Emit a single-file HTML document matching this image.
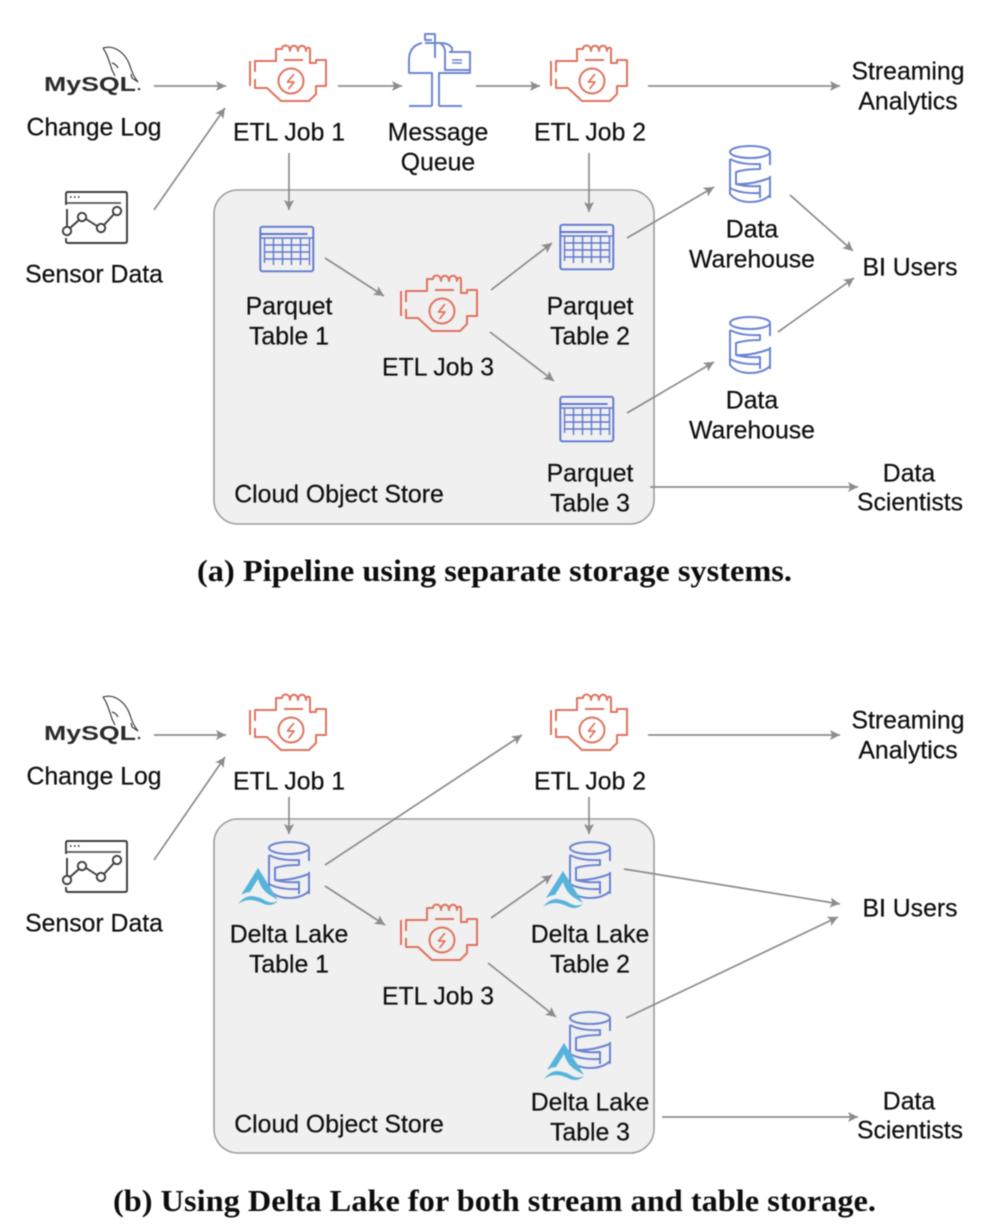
<!DOCTYPE html>
<html>
<head>
<meta charset="utf-8">
<style>
html,body{margin:0;padding:0;background:#fff}
svg{display:block}
text{font-family:"Liberation Sans",sans-serif;font-size:24.8px;fill:#0c0c0c;stroke:#0c0c0c;stroke-width:0.2;text-anchor:middle;transform:translateY(-0.7px)}
text.cap{font-family:"Liberation Serif",serif;font-weight:bold;font-size:31px;fill:#111;stroke:none;text-anchor:start;transform:none}
text.my{font-weight:bold;font-size:20px;text-anchor:start;fill:#2c2c2c;stroke:none;transform:none}
.a{stroke:#8c8c8c;stroke-width:1.7;fill:none;marker-end:url(#ah)}
.box{fill:#f0f0f0;stroke:#9a9a9a;stroke-width:1.6}
</style>
</head>
<body>
<svg width="982" height="1230" viewBox="0 0 982 1230" xmlns="http://www.w3.org/2000/svg">
<defs>
<filter id="b" x="-2%" y="-2%" width="104%" height="104%"><feGaussianBlur stdDeviation="0.45"/></filter>
<marker id="ah" markerUnits="userSpaceOnUse" markerWidth="12" markerHeight="12" refX="10" refY="5" orient="auto"><path d="M0,0 L10,5 L0,10 L2.2,5 Z" fill="#8c8c8c"/></marker>

<g id="engine" fill="none" stroke="#e0735f" stroke-width="2" stroke-linejoin="round">
<path d="M1,15 V40"/>
<path d="M6,26 V15 H27 V3 H33 C33,-2 41,-2 41,5 C41,-2 49,-2 49,5 C49,-2 57,-2 57,5 C57,1 61,1 61,3 V17 H67 V14 H77 V40 H67 V48 L60,55 H32 L18,42 H6 V33"/>
<path d="M35,14 H54"/>
<circle cx="42" cy="35" r="12.5"/>
<path d="M45,28 L38.5,36 H45 L39.5,43" stroke-width="1.7"/>
</g>

<g id="table" fill="none" stroke="#5f78cf" stroke-width="1.9" stroke-linejoin="round">
<rect x="0.8" y="0.8" width="53" height="44.5" rx="2"/>
<path d="M1,8 H48"/>
<path d="M1,12 H54" stroke-width="1.6"/>
<path d="M5,12 V37 M5,19 H50 M5,26 H50 M5,33 H50 M14,12 V39 M23,12 V39 M32,12 V39 M41,12 V39 M50,12 V39" stroke-width="1.4"/>
</g>

<g id="db" fill="none" stroke="#6c84d2" stroke-width="2" stroke-linejoin="round">
<ellipse cx="21" cy="7" rx="20" ry="6"/>
<path d="M1,14 V49 Q8,57 21,57 Q34,57 41,50 M41,7 V20 M41,31 V53"/>
<path d="M1,14 Q12,20 31,19 V24 Q16,24 7,27 V39 Q22,40 41,33"/>
<path d="M7,39 Q18,42 31,41 V53"/>
<path d="M1,43 Q12,49 31,48"/>
</g>

<g id="delta">
<path d="M20,0 L3,27 Q8,24 12,24 L20,11 Q23,21 30,26 L40,32 Z" fill="#56b4dc"/>
<path d="M0,36 Q6,28 14,28 Q22,29 28,33 Q34,36 40,33 Q34,39 26,36 Q18,32 12,32 Q6,32 0,36 Z" fill="#56b4dc"/>
</g>

<g id="mysql">
<text class="my" x="44" y="91" textLength="92" lengthAdjust="spacingAndGlyphs">MySQL</text>
<circle cx="139" cy="89" r="1.3" fill="#444"/>
<path d="M103,48 Q110,46 116,49 Q126,54 130,66 Q133,76 138,82 L132,78 L131,74 M103,48 L106,53 Q109,60 112,70 L115,76 M112,63 Q116,64 118,68" fill="none" stroke="#3c3c3c" stroke-width="1.2"/>
</g>

<g id="sensor" fill="none" stroke="#3c3c3c" stroke-width="1.9">
<path d="M67,192 H125 Q127,192 127,194 V241 Q127,243 125,243 H68 Q66,243 66,241 V238"/>
<path d="M66,205 V194 Q66,192 68,192"/>
<path d="M67,203 H121" stroke-width="1.4"/>
<path d="M70,197 h1.500 M74,197 h1.500 M78,197 h1.500" stroke-width="1.7"/>
<path d="M67,209 V226"/>
<circle cx="67" cy="231" r="4.2"/><circle cx="82" cy="217" r="4.2"/><circle cx="101" cy="228" r="4.2"/><circle cx="117" cy="211" r="4.2"/>
<path d="M70,228 L79,220 M86,219 L97,226 M104,225 L114,214"/>
</g>
</defs>

<!-- Store backgrounds kept in their own layer so text over them renders the same as text outside -->
<g filter="url(#b)">
<rect class="box" x="214" y="190" width="440" height="334" rx="24"/>
<rect class="box" x="214" y="819" width="440" height="334" rx="24"/>
</g>

<g filter="url(#b)">
<!-- Panel (a) -->
<use href="#mysql"/>
<use href="#sensor"/>
<use href="#engine" x="249" y="46"/>
<use href="#engine" x="550" y="46"/>
<use href="#engine" x="400" y="276"/>
<g fill="none" stroke="#6e86d0" stroke-width="2" stroke-linejoin="round">
<path d="M435,58 V34 H425 V40 H432"/>
<path d="M422,43 Q409,46 409,60 V73 H432 V106 M409,106 H432 M439,106 H462 M439,106 V73 H470 V52 H449 M452,51 V48 Q449,43 440,43 H425 M440,43 Q445,46 445,52 V70 H470"/>
<path d="M452,60 H462 M452,63 H462" stroke-width="1.5"/>
</g>
<use href="#table" x="259.500" y="226"/>
<use href="#table" x="559.500" y="224"/>
<use href="#table" x="559.500" y="396"/>
<use href="#db" x="729" y="145"/>
<use href="#db" x="729" y="316"/>

<path class="a" d="M154,86 H226"/>
<path class="a" d="M154,210 L225,108"/>
<path class="a" d="M338,86 H402"/>
<path class="a" d="M476,86 H540"/>
<path class="a" d="M648,86 H840"/>
<path class="a" d="M289,153 V210"/>
<path class="a" d="M589,153 V212"/>
<path class="a" d="M325,258 L384,296"/>
<path class="a" d="M491,290 L552,243"/>
<path class="a" d="M490,332 L554,381"/>
<path class="a" d="M627,238 L714,187"/>
<path class="a" d="M627,413 L714,362"/>
<path class="a" d="M790,195 L853,251"/>
<path class="a" d="M778,332 L854,278"/>
<path class="a" d="M650,487 H858"/>

<text x="94" y="136">Change Log</text>
<text x="94" y="283">Sensor Data</text>
<text x="289" y="141">ETL Job 1</text>
<text x="438" y="141">Message</text>
<text x="438" y="171">Queue</text>
<text x="590" y="141">ETL Job 2</text>
<text x="908" y="80">Streaming</text>
<text x="908" y="110">Analytics</text>
<text x="752" y="238">Data</text>
<text x="752" y="268">Warehouse</text>
<text x="910" y="276">BI Users</text>
<text x="289" y="315">Parquet</text>
<text x="289" y="345">Table 1</text>
<text x="438" y="376">ETL Job 3</text>
<text x="590" y="315">Parquet</text>
<text x="590" y="345">Table 2</text>
<text x="752" y="409">Data</text>
<text x="752" y="439">Warehouse</text>
<text x="590" y="482">Parquet</text>
<text x="590" y="512">Table 3</text>
<text x="339" y="503">Cloud Object Store</text>
<text x="909" y="482">Data</text>
<text x="910" y="511">Scientists</text>
<text class="cap" x="197" y="581" textLength="595" lengthAdjust="spacingAndGlyphs">(a) Pipeline using separate storage systems.</text>

<!-- Panel (b) -->
<use href="#mysql" y="649"/>
<use href="#sensor" y="649"/>
<use href="#engine" x="249" y="695"/>
<use href="#engine" x="550" y="695"/>
<use href="#engine" x="400" y="905"/>
<use href="#db" x="268" y="841"/>
<use href="#db" x="569" y="841"/>
<use href="#db" x="569" y="1011"/>
<use href="#delta" x="238" y="868"/>
<use href="#delta" x="543" y="871"/>
<use href="#delta" x="544" y="1043"/>

<path class="a" d="M154,735 H226"/>
<path class="a" d="M154,860 L225,757"/>
<path class="a" d="M325,865 L522,735"/>
<path class="a" d="M648,735 H840"/>
<path class="a" d="M289,797 V834"/>
<path class="a" d="M589,797 V834"/>
<path class="a" d="M325,886 L385,925"/>
<path class="a" d="M491,918 L552,875"/>
<path class="a" d="M488,963 L556,1017"/>
<path class="a" d="M624,869 L840,904"/>
<path class="a" d="M626,1018 L838,917"/>
<path class="a" d="M662,1117 H858"/>

<text x="94" y="785">Change Log</text>
<text x="94" y="932">Sensor Data</text>
<text x="289" y="790">ETL Job 1</text>
<text x="590" y="790">ETL Job 2</text>
<text x="908" y="729">Streaming</text>
<text x="908" y="759">Analytics</text>
<text x="910" y="917">BI Users</text>
<text x="289" y="943">Delta Lake</text>
<text x="289" y="973">Table 1</text>
<text x="438" y="1005">ETL Job 3</text>
<text x="590" y="943">Delta Lake</text>
<text x="590" y="973">Table 2</text>
<text x="590" y="1111">Delta Lake</text>
<text x="590" y="1141">Table 3</text>
<text x="339" y="1133">Cloud Object Store</text>
<text x="909" y="1110">Data</text>
<text x="910" y="1139">Scientists</text>
<text class="cap" x="113" y="1211" textLength="763" lengthAdjust="spacingAndGlyphs">(b) Using Delta Lake for both stream and table storage.</text>
</g>
</svg>
</body>
</html>
